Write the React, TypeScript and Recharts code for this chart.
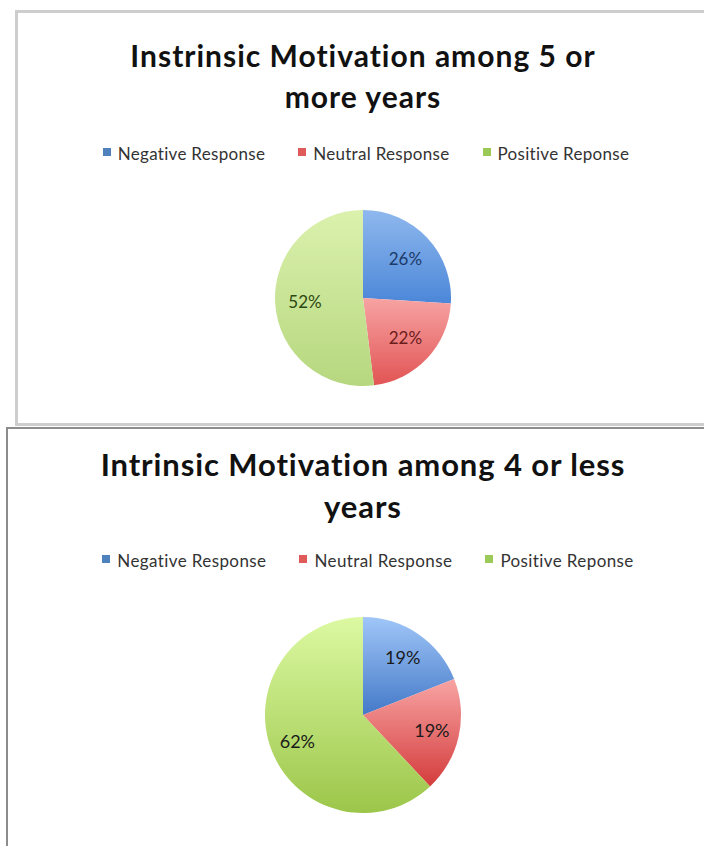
import React from 'react';
import { PieChart, Pie, Cell, Legend } from 'recharts';

// response categories shared by both charts
const categories = ['Negative Response', 'Neutral Response', 'Positive Reponse'];

// percentages
const moreYearsValues = [26, 22, 52];
const lessYearsValues = [19, 19, 62];

const moreYearsTitle = ['Instrinsic Motivation among 5 or', 'more years'];
const lessYearsTitle = ['Intrinsic Motivation among 4 or less', 'years'];

const RAD = Math.PI / 180;
const FONT = 'Lato, "Open Sans", sans-serif';
const NO_MARGIN = { top: 0, right: 0, bottom: 0, left: 0 };

const legendColors = ['#4f81bd', '#e05a5a', '#9bc955'];

const buildData = (values: number[]) =>
    categories.map((name, i) => ({ name, value: values[i] }));

const makeLabel = (frac: number, colors: string[], size: number) => (props: any) => {
    const { cx, cy, midAngle, outerRadius, value, index } = props;
    const r = outerRadius * frac;
    const x = cx + r * Math.cos(-midAngle * RAD);
    const y = cy + r * Math.sin(-midAngle * RAD);
    return (
        <text
            x={x}
            y={y}
            textAnchor="middle"
            dominantBaseline="central"
            fill={colors[index]}
            fontSize={size}
            fontFamily={FONT}
        >
            {`${value}%`}
        </text>
    );
};

const renderLegend = (gap: number, spacing: number) => (props: any) => {
    const { payload } = props;
    return (
        <div style={{ display: 'flex', justifyContent: 'center', gap, fontFamily: FONT }}>
            {payload.map((entry: any, i: number) => (
                <span
                    key={i}
                    style={{
                        display: 'flex',
                        alignItems: 'center',
                        color: '#333',
                        fontSize: 17,
                        letterSpacing: spacing
                    }}
                >
                    <span
                        style={{
                            display: 'inline-block',
                            width: 8,
                            height: 8,
                            background: legendColors[i],
                            marginRight: 7,
                            marginTop: -4
                        }}
                    />
                    {entry.value}
                </span>
            ))}
        </div>
    );
};

const Gradients: React.FC<{ prefix: string; stops: [string, string][] }> = ({ prefix, stops }) => (
    <defs>
        {stops.map((s, i) => (
            <linearGradient key={i} id={`${prefix}-${i}`} x1="0" y1="0" x2="0" y2="1">
                <stop offset="0%" stopColor={s[0]} />
                <stop offset="100%" stopColor={s[1]} />
            </linearGradient>
        ))}
    </defs>
);

const moreStops: [string, string][] = [
    ['#8fb8ee', '#4b87d8'],
    ['#f7a3a3', '#e25454'],
    ['#dbf1ad', '#b6d77f']
];
const lessStops: [string, string][] = [
    ['#a0c6f8', '#4479c8'],
    ['#f8a4a4', '#d43c3c'],
    ['#dcf9a2', '#9cc64a']
];

const titleStyle = (top: number, size: number, lh: number, spacing: number): React.CSSProperties => ({
    position: 'absolute',
    left: 0,
    top,
    width: 726,
    textAlign: 'center',
    fontFamily: FONT,
    fontWeight: 700,
    fontSize: size,
    lineHeight: `${lh}px`,
    letterSpacing: spacing,
    color: '#111'
});

const App: React.FC = () => {
    return (
        <div
            style={{
                position: 'fixed',
                left: 0,
                top: 0,
                width: 704,
                height: 846,
                overflow: 'hidden',
                background: '#fff'
            }}
        >
            {/* top panel */}
            <div
                style={{
                    position: 'absolute',
                    left: 15,
                    top: 10,
                    width: 700,
                    height: 416,
                    boxSizing: 'border-box',
                    border: '3px solid #cdcdcd'
                }}
            />
            <div style={{ position: 'absolute', left: 0, top: 0 }}>
                <PieChart width={704} height={424} margin={NO_MARGIN}>
                    <Gradients prefix="more" stops={moreStops} />
                    <Legend
                        verticalAlign="middle"
                        content={renderLegend(33, 0.3)}
                        wrapperStyle={{ top: 143, left: 0, width: 732 }}
                    />
                    <Pie
                        data={buildData(moreYearsValues)}
                        dataKey="value"
                        nameKey="name"
                        cx={363}
                        cy={298}
                        outerRadius={88}
                        startAngle={90}
                        endAngle={-270}
                        stroke="none"
                        labelLine={false}
                        label={makeLabel(0.66, ['#1d3a68', '#6a1c1c', '#2d4812'], 17)}
                        isAnimationActive={false}
                    >
                        {moreYearsValues.map((_, i) => (
                            <Cell key={i} fill={`url(#more-${i})`} />
                        ))}
                    </Pie>
                </PieChart>
            </div>
            <div style={titleStyle(35, 30, 41, 1)}>
                {moreYearsTitle[0]}
                <br />
                {moreYearsTitle[1]}
            </div>

            {/* bottom panel */}
            <div
                style={{
                    position: 'absolute',
                    left: 6,
                    top: 427,
                    width: 710,
                    height: 430,
                    boxSizing: 'border-box',
                    border: '2px solid #8c8c8c'
                }}
            />
            <div style={{ position: 'absolute', left: 0, top: 429 }}>
                <PieChart width={704} height={417} margin={NO_MARGIN}>
                    <Gradients prefix="less" stops={lessStops} />
                    <Legend
                        verticalAlign="middle"
                        content={renderLegend(33, 0.4)}
                        wrapperStyle={{ top: 121, left: 0, width: 736 }}
                    />
                    <Pie
                        data={buildData(lessYearsValues)}
                        dataKey="value"
                        nameKey="name"
                        cx={363}
                        cy={286}
                        outerRadius={98}
                        startAngle={90}
                        endAngle={-270}
                        stroke="none"
                        labelLine={false}
                        label={makeLabel(0.72, ['#1a1a1a', '#1a1a1a', '#1a1a1a'], 18)}
                        isAnimationActive={false}
                    >
                        {lessYearsValues.map((_, i) => (
                            <Cell key={i} fill={`url(#less-${i})`} />
                        ))}
                    </Pie>
                </PieChart>
            </div>
            <div style={titleStyle(443, 31, 42, 0.9)}>
                {lessYearsTitle[0]}
                <br />
                {lessYearsTitle[1]}
            </div>
        </div>
    );
};

export default App;
